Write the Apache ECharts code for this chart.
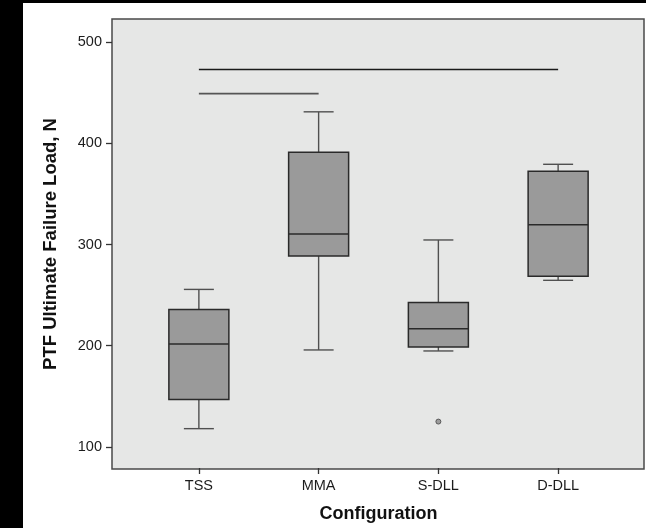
<!DOCTYPE html>
<html>
<head>
<meta charset="utf-8">
<script src="https://cdn.jsdelivr.net/npm/echarts@6/dist/echarts.min.js"></script>
<style>
  html, body { margin: 0; padding: 0; background: #000; width: 646px; height: 528px; overflow: hidden; }
  #chart { position: absolute; left: 23px; top: 3px; width: 623px; height: 525px; background: #fff; }
</style>
</head>
<body>
<div id="chart"></div>
<script>
// box plot values (N)
var categories = ['TSS', 'MMA', 'S-DLL', 'D-DLL']
var whiskerLow = [117, 195, 194, 264]
var q1 = [146, 288, 198, 268]
var median = [201, 310, 216, 319]
var q3 = [235, 391, 242, 372]
var whiskerHigh = [255, 431, 304, 379]
var outliers = [['S-DLL', 124]]
// significance bars
var sigLong = [['TSS', 473], ['D-DLL', 473]]
var sigShort = [['TSS', 449], ['MMA', 449]]
var yTicks = [100, 200, 300, 400, 500]

var boxData = []
for (var i = 0; i < categories.length; i++) {
  boxData.push([i, whiskerLow[i], q1[i], median[i], q3[i], whiskerHigh[i]])
}

var myChart = echarts.init(document.getElementById('chart'))

function renderBox (params, api) {
  var x = api.value(0)
  var pLow = api.coord([x, api.value(1)])
  var pQ1 = api.coord([x, api.value(2)])
  var pMed = api.coord([x, api.value(3)])
  var pQ3 = api.coord([x, api.value(4)])
  var pHigh = api.coord([x, api.value(5)])
  var cx = pMed[0]
  var half = 30
  var cap = 15
  var whisk = { stroke: '#505050', lineWidth: 1.4 }
  var edge = { stroke: '#2a2a2a', lineWidth: 1.5 }
  return {
    type: 'group',
    children: [
      { type: 'line', shape: { x1: cx, y1: pQ3[1], x2: cx, y2: pHigh[1] }, style: whisk },
      { type: 'line', shape: { x1: cx - cap, y1: pHigh[1], x2: cx + cap, y2: pHigh[1] }, style: whisk },
      { type: 'line', shape: { x1: cx, y1: pQ1[1], x2: cx, y2: pLow[1] }, style: whisk },
      { type: 'line', shape: { x1: cx - cap, y1: pLow[1], x2: cx + cap, y2: pLow[1] }, style: whisk },
      { type: 'rect', shape: { x: cx - half, y: pQ3[1], width: half * 2, height: pQ1[1] - pQ3[1] },
        style: { fill: '#9a9a9a', stroke: '#2a2a2a', lineWidth: 1.5 } },
      { type: 'line', shape: { x1: cx - half, y1: pMed[1], x2: cx + half, y2: pMed[1] }, style: edge }
    ]
  }
}

var option = {
  animation: false,
  grid: [
    { left: 89, top: 16, width: 532, height: 450, show: true, backgroundColor: '#e6e7e6',
      borderColor: '#4a4a4a', borderWidth: 1.5 },
    { left: 116, top: 16, width: 479, height: 450 }
  ],
  xAxis: [
    { type: 'value', gridIndex: 0, min: 0, max: 1, show: false },
    {
      type: 'category',
      gridIndex: 1,
      data: categories,
      boundaryGap: true,
      axisLine: { show: false },
      axisTick: { show: true, alignWithLabel: true, length: 6, lineStyle: { color: '#333', width: 1.3 } },
      axisLabel: { color: '#1c1c1c', fontSize: 14.5, fontFamily: 'Liberation Sans, Arial, sans-serif', margin: 10 },
      splitLine: { show: false },
      name: 'Configuration',
      nameLocation: 'middle',
      nameGap: 37,
      nameTextStyle: { color: '#111', fontSize: 18, fontWeight: 'bold', fontFamily: 'Liberation Sans, Arial, sans-serif' }
    }
  ],
  yAxis: [
    {
      type: 'value',
      gridIndex: 0,
      min: 78,
      max: 523,
      axisLine: { show: false },
      axisTick: { show: true, length: 6, customValues: yTicks, lineStyle: { color: '#333', width: 1.3 } },
      axisLabel: { color: '#1c1c1c', fontSize: 14.5, fontFamily: 'Liberation Sans, Arial, sans-serif', margin: 10, customValues: yTicks },
      splitLine: { show: false },
      name: 'PTF Ultimate Failure Load, N',
      nameLocation: 'middle',
      nameGap: 52,
      nameTextStyle: { color: '#111', fontSize: 18.5, fontWeight: 'bold', fontFamily: 'Liberation Sans, Arial, sans-serif' }
    },
    { type: 'value', gridIndex: 1, min: 78, max: 523, show: false, splitLine: { show: false } }
  ],
  series: [
    {
      type: 'custom',
      xAxisIndex: 1,
      yAxisIndex: 1,
      renderItem: renderBox,
      data: boxData,
      z: 3
    },
    {
      type: 'scatter',
      xAxisIndex: 1,
      yAxisIndex: 1,
      data: outliers,
      symbol: 'circle',
      symbolSize: 5,
      itemStyle: { color: '#8a8a8a', borderColor: '#444', borderWidth: 1 },
      z: 4
    },
    {
      type: 'line',
      xAxisIndex: 1,
      yAxisIndex: 1,
      data: sigLong,
      symbol: 'none',
      lineStyle: { color: '#1a1a1a', width: 1.6 }
    },
    {
      type: 'line',
      xAxisIndex: 1,
      yAxisIndex: 1,
      data: sigShort,
      symbol: 'none',
      lineStyle: { color: '#555', width: 1.6 }
    }
  ]
}
myChart.setOption(option)
</script>
</body>
</html>
